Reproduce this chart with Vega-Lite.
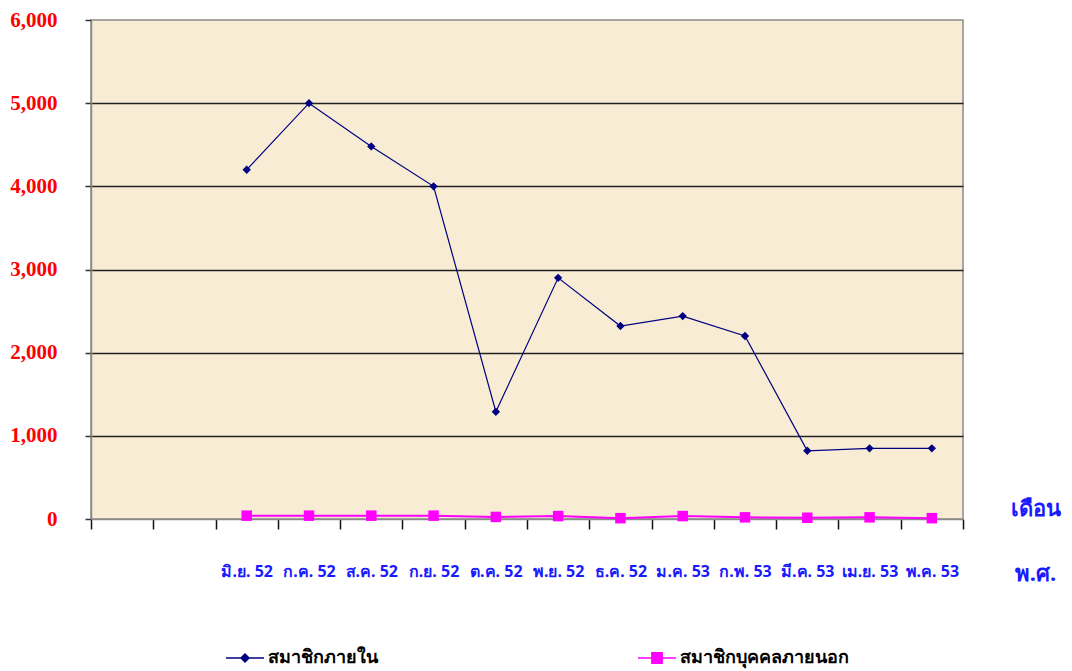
{
  "$schema": "https://vega.github.io/schema/vega-lite/v6.json",
  "width": 872,
  "height": 499,
  "autosize": {"type": "none"},
  "padding": {"left": 91, "top": 20, "right": 109, "bottom": 152},
  "background": "white",
  "view": {"fill": "#f8edd4", "stroke": "#8a8a8a", "strokeWidth": 1.5},
  "data": {
    "values": [
      {"month": "มิ.ย. 52", "series": "สมาชิกภายใน", "value": 4200},
      {"month": "ก.ค. 52", "series": "สมาชิกภายใน", "value": 5000},
      {"month": "ส.ค. 52", "series": "สมาชิกภายใน", "value": 4480},
      {"month": "ก.ย. 52", "series": "สมาชิกภายใน", "value": 4000},
      {"month": "ต.ค. 52", "series": "สมาชิกภายใน", "value": 1290},
      {"month": "พ.ย. 52", "series": "สมาชิกภายใน", "value": 2900},
      {"month": "ธ.ค. 52", "series": "สมาชิกภายใน", "value": 2320},
      {"month": "ม.ค. 53", "series": "สมาชิกภายใน", "value": 2440},
      {"month": "ก.พ. 53", "series": "สมาชิกภายใน", "value": 2200},
      {"month": "มี.ค. 53", "series": "สมาชิกภายใน", "value": 820},
      {"month": "เม.ย. 53", "series": "สมาชิกภายใน", "value": 850},
      {"month": "พ.ค. 53", "series": "สมาชิกภายใน", "value": 850},
      {"month": "มิ.ย. 52", "series": "สมาชิกบุคคลภายนอก", "value": 40},
      {"month": "ก.ค. 52", "series": "สมาชิกบุคคลภายนอก", "value": 40},
      {"month": "ส.ค. 52", "series": "สมาชิกบุคคลภายนอก", "value": 40},
      {"month": "ก.ย. 52", "series": "สมาชิกบุคคลภายนอก", "value": 40},
      {"month": "ต.ค. 52", "series": "สมาชิกบุคคลภายนอก", "value": 25},
      {"month": "พ.ย. 52", "series": "สมาชิกบุคคลภายนอก", "value": 35},
      {"month": "ธ.ค. 52", "series": "สมาชิกบุคคลภายนอก", "value": 10},
      {"month": "ม.ค. 53", "series": "สมาชิกบุคคลภายนอก", "value": 35},
      {"month": "ก.พ. 53", "series": "สมาชิกบุคคลภายนอก", "value": 20},
      {"month": "มี.ค. 53", "series": "สมาชิกบุคคลภายนอก", "value": 15},
      {"month": "เม.ย. 53", "series": "สมาชิกบุคคลภายนอก", "value": 20},
      {"month": "พ.ค. 53", "series": "สมาชิกบุคคลภายนอก", "value": 10}
    ]
  },
  "encoding": {
    "x": {
      "field": "month",
      "type": "nominal",
      "sort": null,
      "scale": {
        "domain": ["_a", "_b", "มิ.ย. 52", "ก.ค. 52", "ส.ค. 52", "ก.ย. 52", "ต.ค. 52", "พ.ย. 52", "ธ.ค. 52", "ม.ค. 53", "ก.พ. 53", "มี.ค. 53", "เม.ย. 53", "พ.ค. 53"],
        "paddingInner": 0,
        "paddingOuter": 0
      },
      "axis": {
        "title": ["เดือน", "พ.ศ."],
        "titleX": 944,
        "titleY": -21,
        "titleAlign": "center",
        "titleBaseline": "top",
        "titleLineHeight": 65,
        "titleColor": "#1a1aff",
        "titleFont": "Noto Sans",
        "titleFontSize": 22,
        "titleFontWeight": "bold",
        "labelExpr": "indexof(['_a','_b'], datum.value) >= 0 ? '' : datum.value",
        "labelAngle": 0,
        "labelColor": "#1a1aff",
        "labelFont": "Noto Sans",
        "labelFontSize": 16,
        "labelFontWeight": "bold",
        "labelBaseline": "top",
        "labelPadding": 34,
        "labelLimit": 200,
        "tickBand": "extent",
        "tickSize": 10,
        "tickColor": "#111111",
        "tickWidth": 1.5,
        "domainColor": "#8a8a8a",
        "domainWidth": 1.5,
        "grid": false
      }
    },
    "y": {
      "field": "value",
      "type": "quantitative",
      "scale": {"domain": [0, 6000], "nice": false},
      "axis": {
        "title": null,
        "values": [0, 1000, 2000, 3000, 4000, 5000, 6000],
        "format": ",.0f",
        "labelColor": "#ff0000",
        "labelFont": "Liberation Serif",
        "labelFontSize": 21,
        "labelFontWeight": "bold",
        "labelPadding": 28,
        "tickSize": 6,
        "tickColor": "#333333",
        "tickWidth": 1.5,
        "domainColor": "#8a8a8a",
        "domainWidth": 1.5,
        "grid": true,
        "gridColor": {"condition": {"test": "datum.value == 0 || datum.value == 6000", "value": "transparent"}, "value": "#222222"},
        "gridWidth": 1.5
      }
    },
    "color": {
      "field": "series",
      "type": "nominal",
      "sort": null,
      "scale": {"domain": ["สมาชิกภายใน", "สมาชิกบุคคลภายนอก"], "range": ["#000080", "#ff00ff"]},
      "legend": {
        "title": null,
        "orient": "none",
        "legendX": 134,
        "legendY": 618,
        "direction": "horizontal",
        "columns": 2,
        "gridAlign": "all",
        "columnPadding": 198,
        "symbolSize": 1444,
        "symbolStrokeWidth": 1.5,
        "labelFont": "Noto Sans",
        "labelFontSize": 18,
        "labelFontWeight": "bold",
        "labelColor": "#000000",
        "labelOffset": 3,
        "labelLimit": 400,
        "encode": {
          "symbols": {
            "update": {
              "shape": {"signal": "datum.value == 'สมาชิกภายใน' ? 'M-1,0H1M-0.21,0L0,-0.21L0.21,0L0,0.21Z' : 'M-1,0H1M-0.27,-0.27H0.27V0.27H-0.27Z'"},
              "fill": {"signal": "datum.value == 'สมาชิกภายใน' ? '#000080' : '#ff00ff'"},
              "stroke": {"signal": "datum.value == 'สมาชิกภายใน' ? '#000080' : '#ff00ff'"},
              "fillOpacity": {"value": 1},
              "strokeWidth": {"value": 1.5}
            }
          }
        }
      }
    }
  },
  "layer": [
    {
      "mark": {"type": "line"},
      "encoding": {
        "strokeWidth": {
          "condition": {"test": "datum.series == 'สมาชิกภายใน'", "value": 1.2},
          "value": 2
        }
      }
    },
    {
      "transform": [{"filter": "datum.series == 'สมาชิกภายใน'"}],
      "mark": {"type": "point", "filled": true, "opacity": 1, "shape": "diamond", "size": 70}
    },
    {
      "transform": [{"filter": "datum.series == 'สมาชิกบุคคลภายนอก'"}],
      "mark": {"type": "point", "filled": true, "opacity": 1, "shape": "square", "size": 110}
    }
  ]
}
